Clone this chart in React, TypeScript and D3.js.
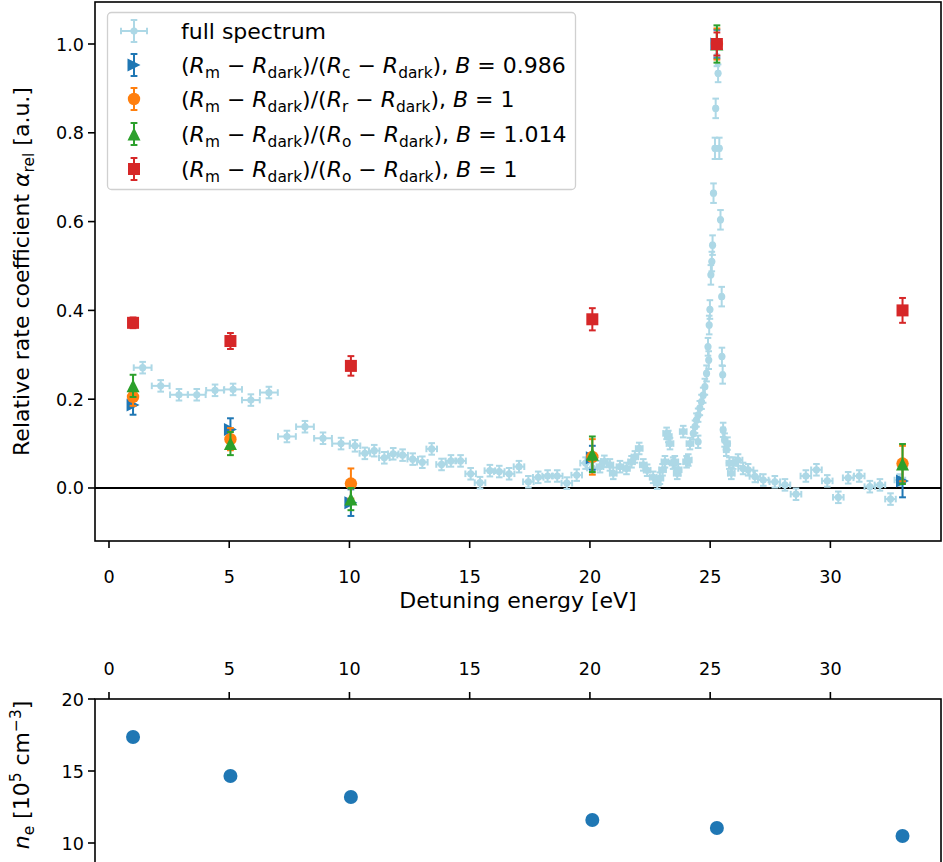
import React from 'react';
import * as d3 from 'd3';

// full spectrum: [energy eV, value, yerr, xerr]
const spectrumE = [1.4, 2.15, 2.91, 3.65, 4.41, 5.16, 5.9, 6.65, 7.4, 8.15, 8.9, 9.65,
  10.23, 10.64, 11.03, 11.45, 11.82, 12.21, 12.63, 13.03, 13.42, 13.83, 14.22, 14.62, 15.04, 15.43, 15.84, 16.23, 16.64, 17.05, 17.44, 17.85, 18.24, 18.64, 19.04, 19.45, 19.82, 20.1,
  20.42, 20.6, 20.83, 20.97, 21.25, 21.52, 21.73, 21.87, 22.05, 22.22, 22.38, 22.63, 22.8, 22.91, 23.02, 23.12, 23.19, 23.26, 23.33, 23.46, 23.53, 23.63, 23.67, 23.88, 24.02, 24.09, 24.16,
  24.3, 24.37, 24.43, 24.5, 24.5, 24.57, 24.64, 24.71, 24.78, 24.85, 24.91, 24.94, 24.96, 24.99, 25.03, 25.07, 25.1, 25.14, 25.2, 25.23, 25.28, 25.33, 25.38, 25.43, 25.48, 25.49, 25.52,
  25.54, 25.6, 25.67, 25.72, 25.8, 25.88, 25.96, 26.16, 26.37, 26.58, 26.86, 27.21, 27.69, 28.11, 28.57, 28.98, 29.42, 29.87, 30.33, 30.74, 31.2, 31.64, 32.06, 32.5, 32.89];
const spectrumV = [0.271, 0.23, 0.21, 0.21, 0.22, 0.222, 0.198, 0.215, 0.116, 0.138, 0.112, 0.1,
  0.095, 0.078, 0.084, 0.068, 0.077, 0.074, 0.065, 0.058, 0.088, 0.053, 0.061, 0.061, 0.032, 0.012, 0.039, 0.037, 0.032, 0.048, 0.014, 0.024, 0.027, 0.027, 0.011, 0.029, 0.056, 0.045,
  0.048, 0.06, 0.052, 0.033, 0.048, 0.044, 0.059, 0.07, 0.089, 0.052, 0.04, 0.024, 0.011, 0.022, 0.041, 0.059, 0.123, 0.116, 0.1, 0.056, 0.059, 0.033, 0.041, 0.127, 0.059, 0.063, 0.1,
  0.123, 0.138, 0.153, 0.164, 0.104, 0.18, 0.194, 0.209, 0.228, 0.258, 0.318, 0.288, 0.367, 0.402, 0.48, 0.51, 0.547, 0.664, 0.765, 0.855, 0.972, 0.934, 0.765, 0.604, 0.431, 0.296, 0.255,
  0.131, 0.108, 0.086, 0.1, 0.056, 0.033, 0.056, 0.063, 0.044, 0.041, 0.026, 0.018, 0.014, 0.007, -0.014, 0.027, 0.041, 0.016, -0.021, 0.023, 0.027, 0.003, 0.007, -0.025, 0.018];
const spectrumYerr = [0.013, 0.013, 0.013, 0.013, 0.013, 0.013, 0.013, 0.013, 0.013, 0.013, 0.013, 0.013,
  0.013, 0.013, 0.013, 0.013, 0.013, 0.013, 0.013, 0.013, 0.013, 0.013, 0.013, 0.013, 0.013, 0.013, 0.013, 0.013, 0.013, 0.013, 0.013, 0.013, 0.013, 0.013, 0.013, 0.013, 0.013, 0.013,
  0.013, 0.013, 0.013, 0.013, 0.013, 0.013, 0.013, 0.013, 0.013, 0.013, 0.013, 0.013, 0.013, 0.013, 0.013, 0.013, 0.013, 0.013, 0.013, 0.013, 0.013, 0.013, 0.013, 0.013, 0.013, 0.013, 0.013,
  0.014, 0.014, 0.015, 0.015, 0.014, 0.016, 0.016, 0.017, 0.018, 0.018, 0.02, 0.02, 0.021, 0.021, 0.022, 0.022, 0.022, 0.022, 0.024, 0.022, 0.022, 0.02, 0.024, 0.022, 0.022, 0.02, 0.02,
  0.016, 0.015, 0.014, 0.014, 0.013, 0.013, 0.013, 0.013, 0.013, 0.013, 0.013, 0.013, 0.013, 0.013, 0.013, 0.013, 0.013, 0.013, 0.013, 0.013, 0.013, 0.013, 0.013, 0.013, 0.013];
const spectrumXerr = [0.37, 0.37, 0.37, 0.37, 0.37, 0.37, 0.37, 0.37, 0.37, 0.37, 0.37, 0.37,
  0.22, 0.22, 0.22, 0.22, 0.22, 0.22, 0.22, 0.22, 0.22, 0.22, 0.22, 0.22, 0.22, 0.22, 0.22, 0.22, 0.22, 0.22, 0.22, 0.22, 0.22, 0.22, 0.22, 0.22, 0.22, 0.22,
  0.14, 0.14, 0.14, 0.14, 0.14, 0.14, 0.14, 0.14, 0.14, 0.14, 0.14, 0.14, 0.14, 0.14, 0.14, 0.14, 0.14, 0.14, 0.14, 0.14, 0.14, 0.14, 0.14, 0.14, 0.14, 0.14, 0.14,
  0.05, 0.05, 0.05, 0.05, 0.05, 0.05, 0.05, 0.05, 0.05, 0.05, 0.05, 0.05, 0.05, 0.05, 0.05, 0.05, 0.05, 0.05, 0.05, 0.05, 0.05, 0.05, 0.05, 0.05, 0.05, 0.05, 0.05,
  0.08, 0.08, 0.1, 0.1, 0.12, 0.14, 0.16, 0.18, 0.2, 0.22, 0.22, 0.22, 0.22, 0.22, 0.22, 0.22, 0.22, 0.22, 0.22, 0.22, 0.22, 0.22, 0.22, 0.22, 0.22];

// measurement energies for the ratio series
const seriesE = [1, 5.05, 10.06, 20.1, 25.28, 33.0];
const blueV = [0.187, 0.132, -0.033, 0.068, 1.0, 0.016];
const blueErr = [0.022, 0.025, 0.03, 0.027, 0.032, 0.037];
const orangeV = [0.205, 0.11, 0.01, 0.07, 1.0, 0.055];
const orangeErr = [0.02, 0.025, 0.034, 0.04, 0.035, 0.04];
const greenV = [0.23, 0.1, -0.025, 0.076, 1.0, 0.054];
const greenErr = [0.025, 0.026, 0.025, 0.04, 0.042, 0.045];
const redV = [0.372, 0.331, 0.275, 0.38, 1.0, 0.40];
const redErr = [0.012, 0.018, 0.022, 0.025, 0.026, 0.028];

// electron density panel
const densityE = [1, 5.05, 10.06, 20.1, 25.28, 33.0];
const densityV = [17.36, 14.65, 13.19, 11.6, 11.04, 10.49];

const xTicks = [0, 5, 10, 15, 20, 25, 30];
const yTicks = [0.0, 0.2, 0.4, 0.6, 0.8, 1.0];
const y2Ticks = [10, 15, 20];

const LB = '#add8e6';
const C_BLUE = '#1f77b4';
const C_ORANGE = '#ff7f0e';
const C_GREEN = '#2ca02c';
const C_RED = '#d62728';

const FONT = 'DejaVu Sans, sans-serif';
const TICK_FS = 17.6;
const LAB_FS = 22;

type Seg = { t: string; i?: boolean; sub?: boolean; sup?: boolean };

function MathText({ x, y, segs, fs, anchor = 'start', transform }: { x: number; y: number; segs: Seg[]; fs: number; anchor?: string; transform?: string }) {
  let cur = 0;
  const out: React.ReactNode[] = [];
  segs.forEach((s, k) => {
    let target = 0;
    if (s.sub) target = fs * 0.22;
    if (s.sup) target = -fs * 0.38;
    const dy = target - cur;
    cur = target;
    out.push(
      <tspan key={k} dy={dy} fontStyle={s.i ? 'italic' : 'normal'} fontSize={s.sub || s.sup ? fs * 0.7 : fs}>
        {s.t}
      </tspan>
    );
  });
  return (
    <text x={x} y={y} fontFamily={FONT} fontSize={fs} textAnchor={anchor} transform={transform} style={{ whiteSpace: 'pre' }}>
      {out}
    </text>
  );
}

function ratioLabel(den: string, b: string): Seg[] {
  return [
    { t: '(' }, { t: 'R', i: true }, { t: 'm', sub: true }, { t: ' − ' }, { t: 'R', i: true }, { t: 'dark', sub: true },
    { t: ')/(' }, { t: 'R', i: true }, { t: den, sub: true }, { t: ' − ' }, { t: 'R', i: true }, { t: 'dark', sub: true },
    { t: '), ' }, { t: 'B', i: true }, { t: ' = ' + b },
  ];
}

function Marker({ kind, cx, cy, color }: { kind: string; cx: number; cy: number; color: string }) {
  const h = 6.5;
  if (kind === 'o') return <circle cx={cx} cy={cy} r={6.2} fill={color} />;
  if (kind === 's') return <rect x={cx - 6} y={cy - 6} width={12} height={12} fill={color} />;
  if (kind === '^') return <path d={`M${cx},${cy - h}L${cx + h},${cy + h}L${cx - h},${cy + h}Z`} fill={color} />;
  if (kind === '>') return <path d={`M${cx + h},${cy}L${cx - h},${cy - h}L${cx - h},${cy + h}Z`} fill={color} />;
  return null;
}

function VErr({ cx, y1, y2, color, cap = 3.5, w = 2 }: { cx: number; y1: number; y2: number; color: string; cap?: number; w?: number }) {
  return (
    <g stroke={color} strokeWidth={w}>
      <line x1={cx} x2={cx} y1={y1} y2={y2} />
      <line x1={cx - cap} x2={cx + cap} y1={y1} y2={y1} />
      <line x1={cx - cap} x2={cx + cap} y1={y2} y2={y2} />
    </g>
  );
}

function HErr({ cy, x1, x2, color, cap = 3.5, w = 2 }: { cy: number; x1: number; x2: number; color: string; cap?: number; w?: number }) {
  return (
    <g stroke={color} strokeWidth={w}>
      <line x1={x1} x2={x2} y1={cy} y2={cy} />
      <line x1={x1} x2={x1} y1={cy - cap} y2={cy + cap} />
      <line x1={x2} x2={x2} y1={cy - cap} y2={cy + cap} />
    </g>
  );
}

export default function App() {
  const L = 95, R = 941, T = 2, B = 541;
  const x = d3.scaleLinear().domain([-0.582, 34.6]).range([L, R]);
  const y = d3.scaleLinear().domain([-0.1194, 1.0946]).range([B, T]);
  const T2 = 699, B2 = 870;
  const y2 = d3.scaleLinear().domain([8.125, 20]).range([B2, T2]);
  const fmt = d3.format('.1f');

  const series = [
    { kind: '>', color: C_BLUE, v: blueV, e: blueErr, label: ratioLabel('c', '0.986') },
    { kind: 'o', color: C_ORANGE, v: orangeV, e: orangeErr, label: ratioLabel('r', '1') },
    { kind: '^', color: C_GREEN, v: greenV, e: greenErr, label: ratioLabel('o', '1.014') },
    { kind: 's', color: C_RED, v: redV, e: redErr, label: ratioLabel('o', '1') },
  ];

  const legX = 134;
  const legRows = [31, 65, 99, 134, 169];

  return (
    <svg width={943} height={862} style={{ position: 'absolute', left: 0, top: 0, background: '#fff' }}>
      <rect x={0} y={0} width={943} height={862} fill="#fff" />
      {/* upper panel */}
      <defs>
        <clipPath id="clipU"><rect x={L} y={T} width={R - L} height={B - T} /></clipPath>
      </defs>
      <g clipPath="url(#clipU)">
        <line x1={L} x2={R} y1={y(0)} y2={y(0)} stroke="#000" strokeWidth={2} />
        {spectrumE.map((e, i) => (
          <g key={'s' + i}>
            <HErr cy={y(spectrumV[i])} x1={x(e - spectrumXerr[i])} x2={x(e + spectrumXerr[i])} color={LB} cap={3.3} w={2} />
            <VErr cx={x(e)} y1={y(spectrumV[i] + spectrumYerr[i])} y2={y(spectrumV[i] - spectrumYerr[i])} color={LB} cap={3.3} w={2} />
            <circle cx={x(e)} cy={y(spectrumV[i])} r={3.6} fill={LB} />
          </g>
        ))}
        {series.map((s, k) => (
          <g key={'ser' + k}>
            {seriesE.map((e, i) => (
              <g key={i}>
                <VErr cx={x(e)} y1={y(s.v[i] + s.e[i])} y2={y(s.v[i] - s.e[i])} color={s.color} cap={3.4} w={2} />
                <Marker kind={s.kind} cx={x(e)} cy={y(s.v[i])} color={s.color} />
              </g>
            ))}
          </g>
        ))}
      </g>
      {/* legend */}
      <rect x={107.5} y={12.5} width={468} height={177} rx={4} fill="#fff" fillOpacity={0.8} stroke="#d0d0d0" strokeWidth={1.3} />
      <g>
        <HErr cy={legRows[0]} x1={legX - 13} x2={legX + 13} color={LB} cap={3.3} />
        <VErr cx={legX} y1={legRows[0] - 11} y2={legRows[0] + 11} color={LB} cap={3.3} />
        <circle cx={legX} cy={legRows[0]} r={3.6} fill={LB} />
        <text x={181} y={legRows[0] + 8} fontFamily={FONT} fontSize={LAB_FS}>full spectrum</text>
        {series.map((s, k) => (
          <g key={'leg' + k}>
            <VErr cx={legX} y1={legRows[k + 1] - 11} y2={legRows[k + 1] + 11} color={s.color} cap={3.4} />
            <Marker kind={s.kind} cx={legX} cy={legRows[k + 1]} color={s.color} />
            <MathText x={181} y={legRows[k + 1] + 8} segs={s.label} fs={LAB_FS} />
          </g>
        ))}
      </g>
      {/* upper axes frame */}
      <rect x={L} y={T} width={R - L} height={B - T} fill="none" stroke="#000" strokeWidth={1.6} />
      {xTicks.map((t) => (
        <g key={'xt' + t}>
          <line x1={x(t)} x2={x(t)} y1={B} y2={B + 7} stroke="#000" strokeWidth={1.6} />
          <text x={x(t)} y={B + 42} fontFamily={FONT} fontSize={TICK_FS} textAnchor="middle">{t}</text>
        </g>
      ))}
      {yTicks.map((t) => (
        <g key={'yt' + t}>
          <line x1={L - 7} x2={L} y1={y(t)} y2={y(t)} stroke="#000" strokeWidth={1.6} />
          <text x={L - 11} y={y(t) + 6.5} fontFamily={FONT} fontSize={TICK_FS} textAnchor="end">{fmt(t)}</text>
        </g>
      ))}
      <text x={(L + R) / 2} y={608} fontFamily={FONT} fontSize={LAB_FS} textAnchor="middle">Detuning energy [eV]</text>
      <MathText x={0} y={0} fs={LAB_FS} anchor="middle" transform={`translate(29, ${(T + B) / 2}) rotate(-90)`}
        segs={[{ t: 'Relative rate coefficient ' }, { t: 'α', i: true }, { t: 'rel', sub: true }, { t: ' [a.u.]' }]} />

      {/* lower panel */}
      {densityE.map((e, i) => (
        <circle key={'d' + i} cx={x(e)} cy={y2(densityV[i])} r={7} fill={C_BLUE} />
      ))}
      <rect x={L} y={T2} width={R - L} height={B2 - T2} fill="none" stroke="#000" strokeWidth={1.6} />
      {xTicks.map((t) => (
        <g key={'x2t' + t}>
          <line x1={x(t)} x2={x(t)} y1={T2 - 7} y2={T2} stroke="#000" strokeWidth={1.6} />
          <text x={x(t)} y={T2 - 24} fontFamily={FONT} fontSize={TICK_FS} textAnchor="middle">{t}</text>
        </g>
      ))}
      {y2Ticks.map((t) => (
        <g key={'y2t' + t}>
          <line x1={L - 7} x2={L} y1={y2(t)} y2={y2(t)} stroke="#000" strokeWidth={1.6} />
          <text x={L - 11} y={y2(t) + 6.5} fontFamily={FONT} fontSize={TICK_FS} textAnchor="end">{t}</text>
        </g>
      ))}
      <MathText x={0} y={0} fs={LAB_FS} anchor="middle" transform={`translate(29, 775) rotate(-90)`}
        segs={[{ t: 'n', i: true }, { t: 'e', sub: true }, { t: ' [10' }, { t: '5', sup: true }, { t: ' cm' }, { t: '−3', sup: true }, { t: ']' }]} />
    </svg>
  );
}
